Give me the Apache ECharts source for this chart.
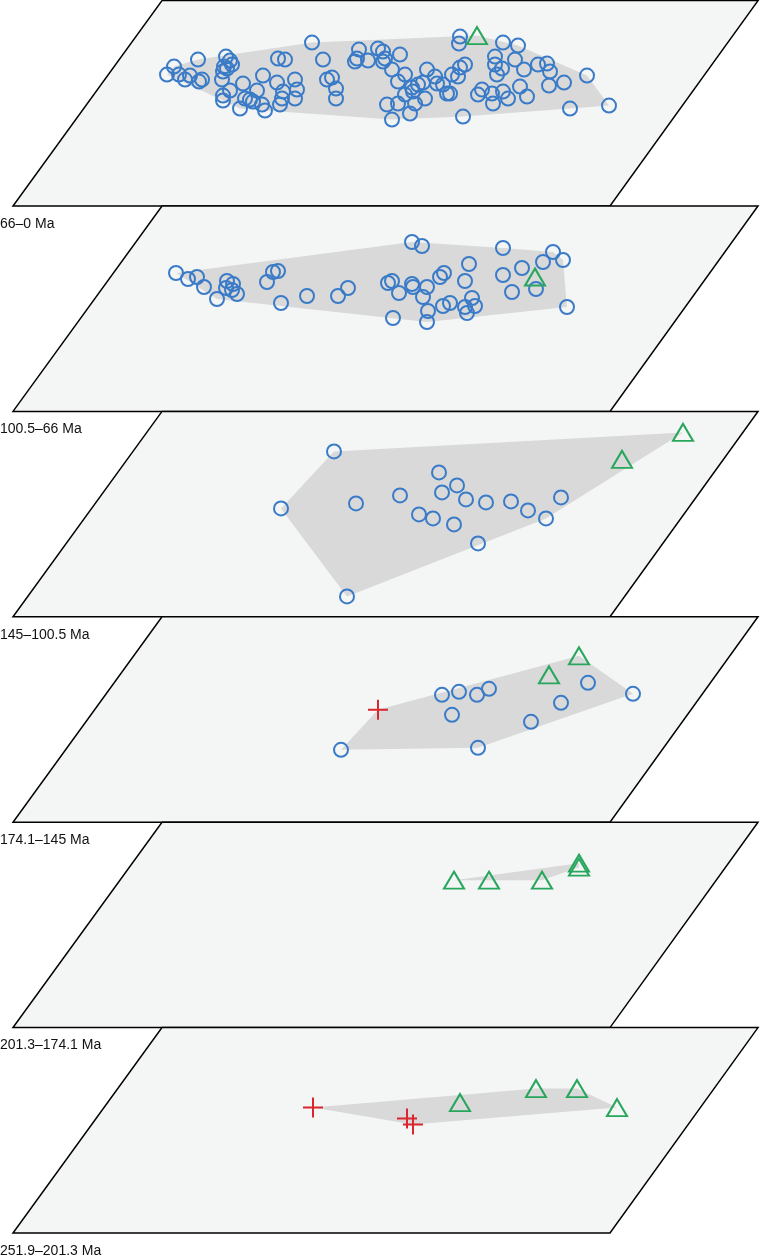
<!DOCTYPE html>
<html>
<head>
<meta charset="utf-8">
<script src="https://cdn.jsdelivr.net/npm/echarts@6/dist/echarts.min.js"></script>
<style>
  html, body { margin: 0; padding: 0; background: #fff; }
  #chart { width: 760px; height: 1257px; }
</style>
</head>
<body>
<div id="chart"></div>
<script>
// time bins, top to bottom
const binLabels = ['66–0 Ma', '100.5–66 Ma', '145–100.5 Ma', '174.1–145 Ma', '201.3–174.1 Ma', '251.9–201.3 Ma']

// projected morphospace positions per bin: [x, depth]
const circles66 = [
  [167,74],[174,66],[179,74],[185,79],[190,75],[198,59],[199,81],[202,79],[226,56],[230,60],
  [224,66],[227,68],[223,71],[232,64],[222,79],[230,90],[223,95],[223,100],[240,108],[243,83],
  [245,98],[250,99],[253,101],[257,90],[262,104],[265,110],[263,75],[277,82],[278,58],[285,59],
  [283,91],[282,98],[280,104],[295,79],[297,89],[295,98],[312,42],[323,59],[327,79],[332,77],
  [336,88],[336,98],[355,61],[359,49],[357,58],[368,60],[378,48],[383,51],[385,58],
  [400,54],[383,61],[392,69],[405,74],[398,81],[427,69],[435,76],[423,82],[418,84],[412,87],
  [413,91],[405,94],[398,103],[387,104],[392,119],[410,113],[415,103],[425,98],[437,83],[443,84],
  [447,93],[450,93],[452,74],[458,76],[460,67],[465,64],[463,116],[478,94],[482,89],[492,93],
  [493,103],[495,56],[495,64],[497,74],[502,68],[503,91],[508,98],[515,59],[520,86],[527,96],
  [524,69],[538,64],[547,63],[550,71],[549,85],[564,82],[570,108],[587,75],[609,105],[460,36],
  [459,43],[503,42],[518,45]
]
const triangles66 = [[477,35]]
const crosses66 = []

const circles100 = [
  [176,67],[188,73],[197,71],[204,81],[217,93],[227,75],[233,78],[232,84],[237,88],[226,82],
  [267,76],[273,66],[278,65],[281,97],[307,90],[338,90],[348,82],
  [412,36],[422,40],[388,77],[392,75],[399,87],[412,78],[413,81],[427,81],[423,91],
  [428,105],[427,116],[393,112],[440,71],[444,67],[443,100],[450,97],[465,75],[469,58],
  [465,101],[467,107],[472,92],[475,100],[503,42],[503,69],[512,86],[522,62],[536,83],
  [543,56],[553,46],[563,54],[567,101]
]
const triangles100 = [[535,71]]
const crosses100 = []

const circles145 = [
  [334,40],[281,97],[347,185],[356,92],[400,84],[439,61],[457,74],[442,81],[466,88],[486,91],
  [511,90],[528,99],[561,86],[546,107],[419,103],[433,107],[454,113],[478,132]
]
const triangles145 = [[683,21],[622,48]]
const crosses145 = []

const circles174 = [
  [341,133],[442,78],[459,75],[477,78],[489,72],[452,98],[478,131],[531,105],[561,86],[588,66],[633,77]
]
const triangles174 = [[579,39],[549,58]]
const crosses174 = [[378,93]]

const circles201 = []
const triangles201 = [[454,58],[489,58],[542,58],[579,41],[579,45]]
const crosses201 = []

const circles252 = []
const triangles252 = [[460,75],[536,61],[577,61],[617,80]]
const crosses252 = [[313,80],[407,91],[413,97]]

const bins = [
  { circles: circles66, triangles: triangles66, crosses: crosses66 },
  { circles: circles100, triangles: triangles100, crosses: crosses100 },
  { circles: circles145, triangles: triangles145, crosses: crosses145 },
  { circles: circles174, triangles: triangles174, crosses: crosses174 },
  { circles: circles201, triangles: triangles201, crosses: crosses201 },
  { circles: circles252, triangles: triangles252, crosses: crosses252 }
]

const PANEL_H = 205.4
const panelTop = i => 0.6 + PANEL_H * i
// plane outline in panel coordinates
const frame = [[13, PANEL_H], [610, PANEL_H], [758, 0], [162, 0]]

const BLUE = '#3a7bc8'
const GREEN = '#27a65c'
const RED = '#d9262f'

// monotone chain convex hull
const convexHull = pts => {
  const p = pts.slice().sort((a, b) => a[0] - b[0] || a[1] - b[1])
  if (p.length < 3) return p
  const cross = (o, a, b) => (a[0] - o[0]) * (b[1] - o[1]) - (a[1] - o[1]) * (b[0] - o[0])
  const lower = []
  for (const q of p) {
    while (lower.length >= 2 && cross(lower[lower.length - 2], lower[lower.length - 1], q) <= 0) lower.pop()
    lower.push(q)
  }
  const upper = []
  for (let i = p.length - 1; i >= 0; i--) {
    const q = p[i]
    while (upper.length >= 2 && cross(upper[upper.length - 2], upper[upper.length - 1], q) <= 0) upper.pop()
    upper.push(q)
  }
  upper.pop(); lower.pop()
  return lower.concat(upper)
}

const grids = [], xAxes = [], yAxes = [], series = [], graphics = []

bins.forEach((bin, i) => {
  const top = panelTop(i)
  grids.push({ left: 0, top: top, width: 760, height: PANEL_H })
  xAxes.push({ type: 'value', gridIndex: i, min: 0, max: 760, show: false })
  yAxes.push({ type: 'value', gridIndex: i, min: 0, max: PANEL_H, inverse: true, show: false })

  series.push({
    type: 'custom',
    xAxisIndex: i, yAxisIndex: i,
    silent: true, z: 1,
    data: [[0, 0]],
    renderItem: (params, api) => ({
      type: 'polygon',
      shape: { points: frame.map(c => api.coord(c)) },
      style: { fill: '#f4f5f5', stroke: '#000', lineWidth: 1.5, lineJoin: 'miter' }
    })
  })

  const hull = convexHull([...bin.circles, ...bin.triangles, ...bin.crosses])
  series.push({
    type: 'custom',
    xAxisIndex: i, yAxisIndex: i,
    silent: true, z: 2,
    data: [[0, 0]],
    renderItem: (params, api) => ({
      type: 'polygon',
      shape: { points: hull.map(c => api.coord(c)) },
      style: { fill: '#d9d9d9' }
    })
  })

  series.push({
    type: 'scatter', xAxisIndex: i, yAxisIndex: i, z: 3, silent: true,
    symbol: 'circle', symbolSize: 14,
    itemStyle: { color: 'rgba(0,0,0,0)', borderColor: BLUE, borderWidth: 2, opacity: 1 },
    data: bin.circles
  })
  series.push({
    type: 'scatter', xAxisIndex: i, yAxisIndex: i, z: 4, silent: true,
    symbol: 'triangle', symbolSize: [20, 17],
    itemStyle: { color: 'rgba(0,0,0,0)', borderColor: GREEN, borderWidth: 2, opacity: 1 },
    data: bin.triangles
  })
  series.push({
    type: 'scatter', xAxisIndex: i, yAxisIndex: i, z: 5, silent: true,
    symbol: 'path://M0,5L10,5M5,0L5,10', symbolSize: 20,
    itemStyle: { color: 'rgba(0,0,0,0)', borderColor: RED, borderWidth: 2, opacity: 1 },
    data: bin.crosses
  })

  graphics.push({
    type: 'text',
    left: 0,
    top: top + PANEL_H + 11,
    style: {
      text: binLabels[i],
      fontSize: 14,
      fontFamily: 'Liberation Sans, Arial, sans-serif',
      fill: '#111'
    }
  })
})

const chart = echarts.init(document.getElementById('chart'), null, { renderer: 'canvas' })
chart.setOption({
  animation: false,
  backgroundColor: '#fff',
  grid: grids,
  xAxis: xAxes,
  yAxis: yAxes,
  series: series,
  graphic: graphics
})
</script>
</body>
</html>
